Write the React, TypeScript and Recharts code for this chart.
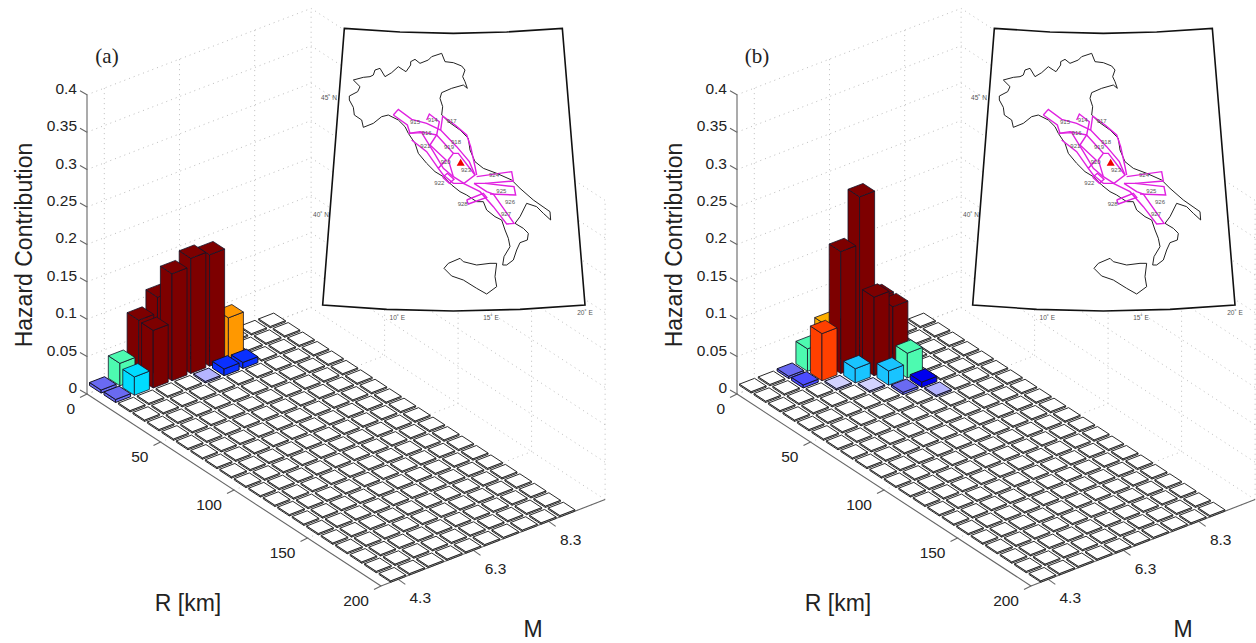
import React from 'react';
import { ScatterChart, Scatter, XAxis, YAxis } from 'recharts';

const rBins = [0, 10, 20, 30, 40, 50, 60, 70, 80, 90, 100, 110, 120, 130, 140, 150, 160, 170, 180, 190, 200];
const mBins = [4.3, 4.8, 5.3, 5.8, 6.3, 6.8, 7.3, 7.8, 8.3, 8.8];

// hazard contribution per R row (only rows with something in them), columns follow mBins
const hazardA = [
  [0.004, 0.03, 0.078, 0.099, 0, 0, 0, 0, 0, 0],
  [0.004, 0.0245, 0.077, 0.143, 0.154, 0.149, 0.055, 0, 0, 0],
  [0, 0, 0, 0, 0.002, 0.009, 0.008, 0, 0, 0],
];
const hazardB = [
  [0, 0, 0.003, 0.03, 0.052, 0, 0, 0, 0, 0],
  [0, 0, 0.004, 0.063, 0.163, 0.2265, 0.082, 0, 0, 0],
  [0, 0, 0, 0.002, 0.019, 0.105, 0.0825, 0, 0, 0],
  [0, 0, 0, 0, 0.002, 0.019, 0.033, 0, 0, 0],
  [0, 0, 0, 0, 0, 0.003, 0.007, 0, 0, 0],
  [0, 0, 0, 0, 0, 0, 0.002, 0, 0, 0],
];

const W = '#ffffff';
const DR = '#7d0000';
const GR = '#4dfab0';
const CY = '#00dcff';
const SK = '#19c4ff';
const OR = '#ff9800';
const YE = '#ffb000';
const RE = '#ff4000';
const BL = '#0a30ff';
const NV = '#0000ee';
const PU = '#6a6af2';
const P2 = '#4c4cff';
const LV = '#b4b4ff';
const L2 = '#d2d2ff';

const colorsA = [
  [PU, GR, DR, DR, W, W, W, W, W, W],
  [PU, CY, DR, DR, DR, DR, OR, W, W, W],
  [W, W, W, W, LV, BL, BL, W, W, W],
];
const colorsB = [
  [W, W, PU, GR, YE, W, W, W, W, W],
  [W, W, P2, RE, DR, DR, DR, W, W, W],
  [W, W, W, L2, SK, DR, DR, W, W, W],
  [W, W, W, W, L2, SK, GR, W, W, W],
  [W, W, W, W, W, PU, NV, W, W, W],
  [W, W, W, W, W, W, LV, W, W, W],
];

const zTicks = [0, 0.05, 0.1, 0.15, 0.2, 0.25, 0.3, 0.35, 0.4];
const zTickLabels = ['0', '0.05', '0.1', '0.15', '0.2', '0.25', '0.3', '0.35', '0.4'];
const rTicks = [0, 50, 100, 150, 200];
const mTicks = [4.3, 6.3, 8.3];

// inset map in inset units
const frame = [[73, 25], [240, 36], [400, 40], [560, 36], [727, 25], [795, 855], [600, 868], [400, 873], [200, 868], [8, 855]];
const mainland = [
  [205, 285], [185, 290], [160, 310], [130, 322], [125, 300], [103, 285], [100, 262], [88, 240], [88, 228], [113, 215], [120, 200],
  [100, 180], [130, 172], [150, 170], [160, 165], [165, 150], [180, 145], [195, 170], [215, 158], [235, 140], [250, 150], [258, 155],
  [272, 135], [272, 125], [285, 118], [300, 130], [325, 120], [335, 110], [365, 100], [375, 125], [400, 128], [425, 138], [435, 150],
  [428, 170], [435, 185], [442, 205], [430, 195], [395, 205], [365, 218], [360, 235], [368, 260], [365, 285], [385, 305], [420, 330],
  [445, 355], [450, 390], [465, 425], [490, 445], [530, 460], [575, 480], [600, 505], [640, 540], [690, 575], [692, 600], [670, 580],
  [650, 560], [620, 550], [610, 570], [600, 590], [585, 610], [610, 625], [625, 640], [622, 660], [600, 668], [590, 690], [580, 720],
  [560, 735], [548, 735], [552, 710], [570, 680], [565, 655], [555, 630], [545, 600], [525, 590], [500, 570], [490, 545], [470, 545],
  [440, 525], [420, 515], [395, 495], [370, 470], [345, 455], [320, 430], [295, 400], [285, 370], [265, 340], [255, 320], [235, 300], [205, 285],
];
const sicily = [
  [372, 745], [385, 730], [420, 715], [430, 725], [470, 735], [510, 730], [530, 730], [525, 770], [530, 800], [500, 822], [470, 805], [430, 780], [395, 768], [372, 745],
];
const zones = [
  [[220, 285], [235, 268], [275, 298], [320, 310], [362, 330], [410, 380], [448, 425], [465, 465], [432, 490], [400, 470], [370, 445], [340, 395], [305, 338], [270, 340], [262, 315], [220, 285]],
  [[320, 300], [328, 282], [358, 305], [350, 345], [330, 375]],
  [[368, 288], [405, 315], [440, 345], [452, 380], [465, 440], [470, 465]],
  [[368, 288], [362, 330]],
  [[350, 345], [400, 400], [385, 420], [400, 470]],
  [[265, 340], [300, 335], [350, 345]],
  [[275, 360], [320, 395], [355, 445], [378, 420], [330, 375]],
  [[355, 445], [370, 465], [400, 490], [430, 490]],
  [[368, 472], [382, 460], [402, 478], [388, 490], [368, 472]],
  [[400, 400], [415, 400], [465, 465]],
  [[470, 470], [575, 455], [580, 483], [495, 490], [462, 490]],
  [[495, 490], [582, 500], [587, 525], [510, 522]],
  [[462, 490], [500, 515], [520, 522], [582, 610], [560, 612], [520, 560], [480, 515], [430, 490]],
  [[440, 540], [445, 552], [500, 532], [490, 520], [440, 540]],
];
const zoneLabels = ['915', '914', '917', '916', '918', '919', '921', '920', '923', '922', '924', '925', '926', '927', '928'];
const zoneLabelSpots = [[285, 305], [338, 300], [395, 303], [320, 340], [408, 365], [387, 380], [316, 378], [377, 426], [438, 450], [358, 490], [522, 466], [544, 512], [570, 545], [558, 582], [428, 553]];
const siteSpot = [422, 427];
const mapTicks = [
  { text: '45˚ N', at: [27, 233] },
  { text: '40˚ N', at: [3, 583] },
  { text: '10˚ E', at: [232, 892] },
  { text: '15˚ E', at: [513, 892] },
  { text: '20˚ E', at: [795, 878] },
];

const PANEL_W = 650;
const PANEL_H = 643;
const FONT = '"Liberation Sans", Arial, sans-serif';
const M_START = 3.84;
const M_END = 9.8;

// oblique view of the R / M / hazard box onto the chart plane
const project = (r: number, m: number, z: number) => ({
  x: 87 + r * 1.47 + (m - M_START) * 37.6,
  y: 394 + r * 0.96 - (m - M_START) * 14.5 - z * 748,
});
const cellR = (r: number) => r * 0.985 - 1;
const toMap = (p: number[]) => ({ x: 320 + p[0] / 3, y: 20 + p[1] / 3 });

const segment = (pts: { x: number; y: number }[], key: string, line: any) => (
  <Scatter key={key} data={pts} line={line} shape={() => null} isAnimationActive={false} legendType="none" />
);

const dots = { stroke: '#bdbdbd', strokeWidth: 1, strokeDasharray: '1 4' };
const axisLine = { stroke: '#666666', strokeWidth: 1.1 };

const Bar3D = (props: any) => {
  const { cx, cy, payload } = props;
  const hr = 4 * 0.985;
  const hm = 0.2;
  const base = project(cellR(payload.r), payload.m, 0);
  const off = (dr: number, dm: number, z: number) => {
    const p = project(cellR(payload.r) + dr, payload.m + dm, z);
    return `${cx + p.x - base.x},${cy + p.y - base.y}`;
  };
  const h = payload.z > 0 ? payload.z : 0.0018;
  const sw = payload.z > 0.01 ? 0.8 : 1;
  const st = payload.color === W ? '#2a2a2a' : '#141428';
  return (
    <g stroke={st} strokeWidth={sw} fill={payload.color} strokeLinejoin="round">
      <polygon points={[off(-hr, -hm, 0), off(hr, -hm, 0), off(hr, -hm, h), off(-hr, -hm, h)].join(' ')} />
      <polygon points={[off(hr, -hm, 0), off(hr, hm, 0), off(hr, hm, h), off(hr, -hm, h)].join(' ')} />
      <polygon points={[off(-hr, -hm, h), off(hr, -hm, h), off(hr, hm, h), off(-hr, hm, h)].join(' ')} />
    </g>
  );
};

const Label = (props: any) => {
  const { cx, cy, payload } = props;
  return (
    <text
      x={cx}
      y={cy}
      textAnchor={payload.anchor || 'middle'}
      dominantBaseline="central"
      fontFamily={payload.family || FONT}
      fontSize={payload.size}
      fill={payload.fill || '#222222'}
      transform={payload.rotate ? `rotate(${payload.rotate} ${cx} ${cy})` : undefined}
    >
      {payload.text}
    </text>
  );
};

const MapFrame = (props: any) => {
  const { cx, cy } = props;
  const o = toMap([0, 0]);
  const pts = frame.map(p => {
    const q = toMap(p);
    return `${cx + q.x - o.x},${cy + q.y - o.y}`;
  });
  return <polygon points={pts.join(' ')} fill="#ffffff" stroke="#111111" strokeWidth={1.6} />;
};

const Site = (props: any) => {
  const { cx, cy } = props;
  return <polygon points={`${cx - 4},${cy + 3.5} ${cx + 4},${cy + 3.5} ${cx},${cy - 3.5}`} fill="#ee0000" />;
};

const Panel: React.FC<{ tag: string; hazard: number[][]; colors: string[][]; left: number; width: number }> = ({ tag, hazard, colors, left, width }) => {
  // far bars first: small R, large M
  const bars: any[] = [];
  rBins.forEach((r, i) => {
    for (let j = mBins.length - 1; j >= 0; j--) {
      const z = hazard[i] ? hazard[i][j] : 0;
      const color = colors[i] ? colors[i][j] : W;
      const p = project(cellR(r), mBins[j], 0);
      bars.push({ ...p, r, m: mBins[j], z, color });
    }
  });

  const walls: React.ReactNode[] = [];
  zTicks.forEach((z, i) => {
    walls.push(segment([project(0, M_START, z), project(0, M_END, z), project(200, M_END, z)], `zg${i}`, dots));
  });
  mTicks.forEach((m, i) => {
    walls.push(segment([project(0, m, 0.4), project(0, m, 0), project(200, m, 0)], `mg${i}`, dots));
  });
  rTicks.forEach((r, i) => {
    walls.push(segment([project(r, M_START, 0), project(r, M_END, 0), project(r, M_END, 0.4)], `rg${i}`, dots));
  });

  const axes: React.ReactNode[] = [
    segment([project(0, M_START, 0), project(0, M_START, 0.4)], 'zaxis', axisLine),
    segment([project(0, M_START, 0), project(200, M_START, 0)], 'raxis', axisLine),
    segment([project(200, M_START, 0), project(200, M_END, 0)], 'maxis', axisLine),
  ];
  zTicks.forEach((z, i) => {
    const p = project(0, M_START, z);
    axes.push(segment([p, { x: p.x - 7, y: p.y - 4 }], `zt${i}`, axisLine));
  });
  rTicks.forEach((r, i) => {
    const p = project(r, M_START, 0);
    axes.push(segment([p, { x: p.x - 7, y: p.y + 3.4 }], `rt${i}`, axisLine));
  });
  mTicks.forEach((m, i) => {
    const p = project(200, m, 0);
    axes.push(segment([p, { x: p.x + 7, y: p.y + 5 }], `mt${i}`, axisLine));
  });

  const labels: any[] = [
    { x: 107, y: 56, text: tag, size: 21, family: '"Liberation Serif", serif' },
    { x: 24, y: 245, text: 'Hazard Contribution', size: 23, rotate: -90 },
    { x: 188, y: 603, text: 'R [km]', size: 23 },
    { x: 533, y: 629, text: 'M', size: 23 },
  ];
  zTicks.forEach((z, i) => {
    const p = project(0, M_START, z);
    labels.push({ x: 77, y: p.y - 6.5, text: zTickLabels[i], size: 15.5, anchor: 'end' });
  });
  rTicks.forEach(r => {
    const p = project(r, M_START, 0);
    labels.push({ x: p.x - 12, y: p.y + 14, text: String(r), size: 15.5, anchor: 'end' });
  });
  mTicks.forEach(m => {
    const p = project(200, m, 0);
    labels.push({ x: p.x + 22, y: p.y + 18, text: m.toFixed(1), size: 15.5 });
  });

  const mapLabels: any[] = [
    ...zoneLabels.map((text, i) => ({ ...toMap(zoneLabelSpots[i]), text, size: 6, fill: '#555555' })),
    ...mapTicks.map(t => ({ ...toMap(t.at), text: t.text, size: 6.5, fill: '#555555' })),
  ];

  return (
    <div style={{ position: 'absolute', top: 0, left, width, height: PANEL_H }}>
      <ScatterChart width={width} height={PANEL_H} margin={{ top: 0, right: 0, bottom: 0, left: 0 }}>
        <XAxis type="number" dataKey="x" domain={[0, width]} allowDataOverflow hide />
        <YAxis type="number" dataKey="y" domain={[0, PANEL_H]} reversed allowDataOverflow hide />
        {walls}
        {axes}
        <Scatter data={bars} shape={Bar3D} isAnimationActive={false} legendType="none" />
        <Scatter data={[toMap([0, 0])]} shape={MapFrame} isAnimationActive={false} legendType="none" />
        {segment(mainland.map(toMap), 'mainland', { stroke: '#222222', strokeWidth: 1 })}
        {segment(sicily.map(toMap), 'sicily', { stroke: '#222222', strokeWidth: 1 })}
        {zones.map((z, i) => segment(z.map(toMap), `zone${i}`, { stroke: '#e020e0', strokeWidth: 1.4 }))}
        <Scatter data={[toMap(siteSpot)]} shape={Site} isAnimationActive={false} legendType="none" />
        <Scatter data={mapLabels} shape={Label} isAnimationActive={false} legendType="none" />
        <Scatter data={labels} shape={Label} isAnimationActive={false} legendType="none" />
      </ScatterChart>
    </div>
  );
};

export default function App() {
  return (
    <div style={{ position: 'absolute', top: 0, left: 0, width: 1256, height: 643, background: '#ffffff', overflow: 'hidden' }}>
      <Panel tag="(a)" hazard={hazardA} colors={colorsA} left={0} width={PANEL_W} />
      <Panel tag="(b)" hazard={hazardB} colors={colorsB} left={PANEL_W} width={606} />
    </div>
  );
}
